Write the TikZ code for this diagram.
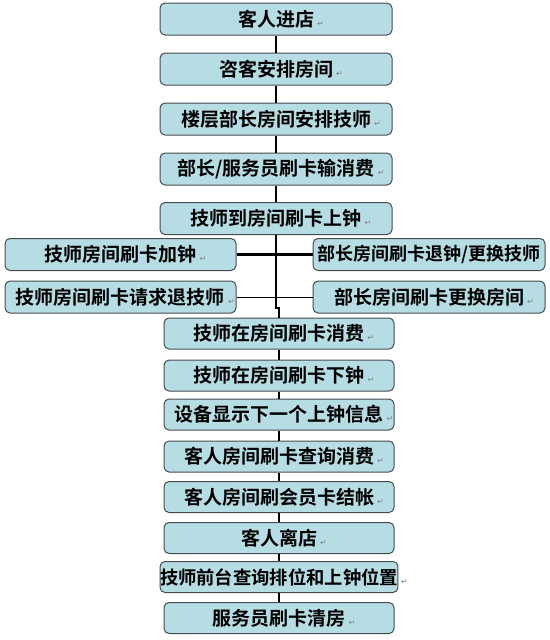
\documentclass[tikz,border=0pt]{standalone}
\usepackage{fontspec}
\newfontfamily\cjk{Noto Sans CJK SC Bold}
\newfontfamily\symfont{DejaVu Sans}
\definecolor{boxfill}{RGB}{183,221,228}
\definecolor{boxline}{RGB}{70,75,80}
% small return mark after each line
\newcommand\retmark{\rlap{\,\textcolor{gray}{\symfont\fontsize{8}{8}\selectfont ↵}}}

\begin{document}
\begin{tikzpicture}[x=1pt,y=-1pt,
		stepbox/.style={draw=boxline,line width=1pt,fill=boxfill,rounded corners=5pt,
			minimum width=232pt,minimum height=32pt,inner sep=0pt,
			font=\cjk\fontsize{19}{21}\selectfont},
		lowbox/.style={stepbox,minimum width=230pt,minimum height=31pt},
		link/.style={line width=2.4pt},
		thinlink/.style={line width=0.9pt}]
	\useasboundingbox (0,0) rectangle (549,640);
	% main column
	\node[stepbox] (t1) at (276,19) {客人进店\retmark};
	\node[stepbox] (t2) at (276,69) {咨客安排房间\retmark};
	\node[stepbox] (t3) at (276,119) {楼层部长房间安排技师\retmark};
	\node[stepbox] (t4) at (276,169) {部长/服务员刷卡输消费\retmark};
	\node[stepbox] (t5) at (276,218.5) {技师到房间刷卡上钟\retmark};
	% side boxes
	\node[stepbox,minimum width=231pt] (l1) at (120.5,254.5) {技师房间刷卡加钟\retmark};
	\node[stepbox,minimum width=231pt] (l2) at (120.5,297) {技师房间刷卡请求退技师\retmark};
	\node[stepbox,font=\cjk\fontsize{18}{20}\selectfont] (r1) at (429,254.5) {部长房间刷卡退钟/更换技师};
	\node[stepbox] (r2) at (429,297) {部长房间刷卡更换房间\retmark};
	% lower column
	\node[lowbox] (m1) at (279,333.5) {技师在房间刷卡消费\retmark};
	\node[lowbox] (m2) at (279,375.5) {技师在房间刷卡下钟\retmark};
	\node[lowbox] (m3) at (279,414.5) {设备显示下一个上钟信息\retmark};
	\node[lowbox] (m4) at (279,456.5) {客人房间刷卡查询消费\retmark};
	\node[lowbox] (m5) at (279,497) {客人房间刷会员卡结帐\retmark};
	\node[lowbox] (m6) at (279,538) {客人离店\retmark};
	\node[lowbox,font=\cjk\fontsize{18.3}{20}\selectfont] (m7) at (279,577) {技师前台查询排位和上钟位置\retmark};
	\node[lowbox] (m8) at (279,618) {服务员刷卡清房\retmark};

	\draw[link] (t1.south) -- (t2.north);
	\draw[link] (t2.south) -- (t3.north);
	\draw[link] (t3.south) -- (t4.north);
	\draw[link] (t4.south) -- (t5.north);
	\coordinate (jog) at (276,308);
	\draw[link] (t5.south) -- (jog) -| (m1.north);
	\draw[link] (l1.east) -- (r1.west);
	\draw[thinlink] (l2.east) -- (r2.west);
	\draw[link] (m1.south) -- (m2.north);
	\draw[link] (m2.south) -- (m3.north);
	\draw[link] (m3.south) -- (m4.north);
	\draw[link] (m4.south) -- (m5.north);
	\draw[link] (m5.south) -- (m6.north);
	\draw[link] (m6.south) -- (m7.north);
	\draw[link] (m7.south) -- (m8.north);
\end{tikzpicture}
\end{document}
